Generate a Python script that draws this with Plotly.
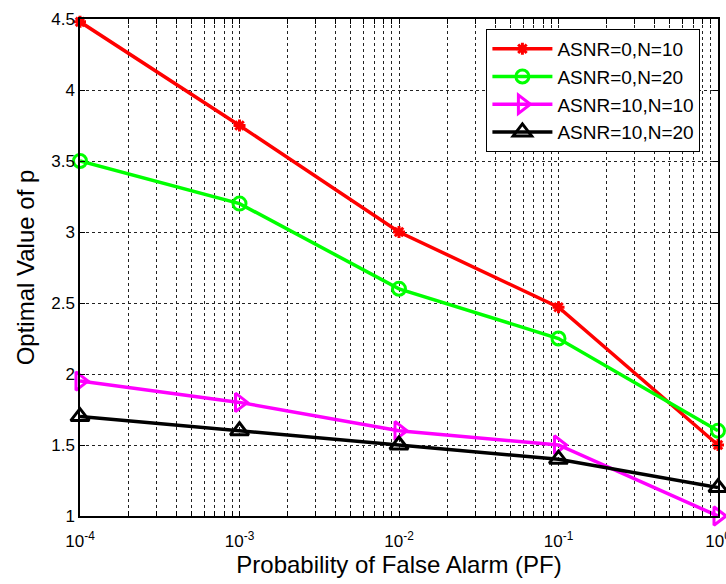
import plotly.graph_objects as go

pf = [1e-4, 1e-3, 1e-2, 1e-1, 1.0]
asnr0_n10 = [4.48, 3.75, 3.0, 2.47, 1.5]
asnr0_n20 = [3.5, 3.2, 2.6, 2.25, 1.6]
asnr10_n10 = [1.95, 1.8, 1.6, 1.5, 1.0]
asnr10_n20 = [1.7, 1.6, 1.5, 1.4, 1.2]

series = [
    ("ASNR=0,N=10", asnr0_n10, "#ff0000", "asterisk-open", 10),
    ("ASNR=0,N=20", asnr0_n20, "#00ff00", "circle-open", 13),
    ("ASNR=10,N=10", asnr10_n10, "#ff00ff", "triangle-right-open", 16),
    ("ASNR=10,N=20", asnr10_n20, "#000000", "triangle-up-open", 16),
]

decades = [-4, -3, -2, -1]
tickvals, ticktext = [], []
for e in decades:
    for k in range(1, 10):
        tickvals.append(k * 10 ** e)
        ticktext.append(f"10<sup>{e}</sup>" if k == 1 else " ")
tickvals.append(1.0)
ticktext.append("10<sup>0</sup>")

fig = go.Figure()
for name, ys, col, sym, sz in series:
    fig.add_trace(go.Scatter(
        x=pf, y=ys, name=name, mode="lines+markers",
        line=dict(color=col, width=3.5),
        marker=dict(symbol=sym, size=sz, color=col, line=dict(color=col, width=3)),
        cliponaxis=False,
    ))

font = "Liberation Sans, Arial, sans-serif"
fig.update_layout(
    width=726, height=584,
    margin=dict(l=80, r=8, t=19, b=68),
    paper_bgcolor="white", plot_bgcolor="white",
    font=dict(family=font, size=17, color="black"),
    showlegend=True,
    legend=dict(x=0.637, y=0.98, xanchor="left", yanchor="top",
                bgcolor="white", bordercolor="black", borderwidth=1,
                font=dict(size=19), tracegroupgap=0, itemwidth=60),
    xaxis=dict(
        type="log", range=[-4, 0], tickvals=tickvals, ticktext=ticktext,
        tickangle=0, ticklabeloverflow="allow", ticklabelstandoff=9,
        showgrid=True, gridcolor="#222", griddash="dot", gridwidth=1,
        ticks="inside", ticklen=5, tickcolor="black", mirror="ticks",
        showline=True, linecolor="black", linewidth=1.5,
        tickfont=dict(size=17), zeroline=False, automargin=False,
        title=dict(text="Probability of False Alarm (PF)", font=dict(size=24), standoff=4),
    ),
    yaxis=dict(
        range=[1, 4.5], dtick=0.5, tick0=1,
        showgrid=True, gridcolor="#222", griddash="dot", gridwidth=1,
        ticks="inside", ticklen=5, tickcolor="black", mirror="ticks",
        showline=True, linecolor="black", linewidth=1.5,
        tickfont=dict(size=17), zeroline=False, automargin=False,
        title=dict(text="Optimal Value of p", font=dict(size=24), standoff=10),
    ),
)

fig.write_html("out.html", config={"displayModeBar": False},
               post_script="document.body.style.margin='0px';")
